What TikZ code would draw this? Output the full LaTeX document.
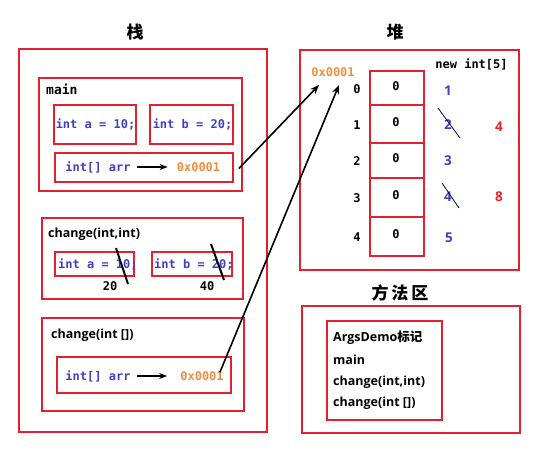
\documentclass[tikz,border=0pt]{standalone}
\usepackage{fontspec}
\setmainfont{Open Sans}
\setmonofont{DejaVu Sans Mono}
\newfontfamily\cjk{Noto Sans CJK SC}
\usetikzlibrary{arrows.meta}
\definecolor{boxred}{RGB}{226,32,48}
\definecolor{codeblue}{RGB}{64,64,196}
\definecolor{addrorange}{RGB}{242,142,62}
\definecolor{numred}{RGB}{228,36,44}
\tikzset{
  box/.style={draw=boxred,line width=1.8pt,inner sep=0pt},
  code/.style={font=\ttfamily\bfseries\fontsize{12}{12}\selectfont,text=codeblue,inner sep=0pt},
  addr/.style={font=\ttfamily\bfseries\fontsize{12}{12}\selectfont,text=addrorange,inner sep=0pt},
  mono/.style={font=\ttfamily\bfseries\fontsize{12}{12}\selectfont,text=black,inner sep=0pt},
  lbl/.style={font=\bfseries\fontsize{12.5}{12.5}\selectfont,text=black,inner sep=0pt,anchor=west},
  title/.style={font=\cjk\bfseries\fontsize{17}{17}\selectfont,inner sep=0pt},
  bnum/.style={font=\bfseries\fontsize{13.5}{13.5}\selectfont,text=codeblue,inner sep=0pt},
  rnum/.style={font=\bfseries\fontsize{13.5}{13.5}\selectfont,text=numred,inner sep=0pt},
  ptr/.style={-{Stealth[length=9pt,width=7pt]},line width=1.6pt,black},
  small ptr/.style={-{Stealth[length=8pt,width=6pt]},line width=1.5pt,black},
  strike/.style={line width=2pt,black},
  thin strike/.style={line width=0.8pt,black!70!blue},
}
\begin{document}
\begin{tikzpicture}[x=1pt,y=-1pt]
\useasboundingbox (0,0) rectangle (554,472);
% titles
\node[title] (tstack) at (135,32) {栈};
\node[title] (theap) at (395,32) {堆};
\node[title] (tmeth) at (400,293) {方\,法\,区};
% stack
\node[box,minimum width=248pt,minimum height=383pt] (stack) at (143,240.5) {};
\node[box,minimum width=203pt,minimum height=113pt] (main) at (140.5,134.5) {};
\node[mono,anchor=west,font=\ttfamily\bfseries\fontsize{13}{13}\selectfont] (mainlbl) at (46,89) {main};
\node[box,minimum width=82pt,minimum height=39pt] (a1) at (95,124.5) {};
\node[code] (a1t) at (95.5,124.5) {int a = 10;};
\node[box,minimum width=83pt,minimum height=39pt] (b1) at (191.5,124.5) {};
\node[code] (b1t) at (192.5,124.5) {int b = 20;};
\node[box,minimum width=178pt,minimum height=29pt] (arr1) at (144,167.5) {};
\node[code] (arr1t) at (98,167) {int[] arr};
\node[addr] (addr1) at (198.5,167) {0x0001};
\draw[small ptr] ([xshift=6pt]arr1t.east) -- ([xshift=-9pt]addr1.west);
% change(int,int)
\node[box,minimum width=201pt,minimum height=81pt] (ch1) at (142.5,258.5) {};
\node[lbl] (ch1lbl) at (48,234) {change(int,int)};
\node[box,minimum width=79pt,minimum height=24pt] (a2) at (94.5,264) {};
\node[code,anchor=west] (a2t) at (58,264) {int a = 10;};
\node[box,minimum width=80pt,minimum height=24pt] (b2) at (192,264) {};
\node[code,anchor=west] (b2t) at (154,264) {int b = 20;};
\node[mono] (v20) at (110,286) {20};
\node[mono] (v40) at (207,286) {40};
\coordinate (sa1) at (116,248); \coordinate (sa2) at (128,284);
\coordinate (sb1) at (211,244); \coordinate (sb2) at (224,280);
\draw[strike] (sa1) -- (sa2);
\draw[strike] (sb1) -- (sb2);
% change(int [])
\node[box,minimum width=202pt,minimum height=93pt] (ch2) at (143,364.5) {};
\node[lbl] (ch2lbl) at (51,335) {change(int [])};
\node[box,minimum width=174pt,minimum height=36pt] (arr2) at (144,375) {};
\node[code] (arr2t) at (98,376) {int[] arr};
\node[addr] (addr2) at (202,376) {0x0001};
\draw[small ptr] ([xshift=6pt]arr2t.east) -- ([xshift=-13pt]addr2.west);
% heap
\node[box,minimum width=219pt,minimum height=220pt] (heap) at (409.5,160) {};
\node[addr] (haddr) at (333,72) {0x0001};
\node[mono] (newint) at (471.5,64) {new int[5]};
\foreach \i/\yt/\yb in {0/71/105,1/105/143,2/143/178,3/178/217,4/217/256}{
  \node[box,minimum width=54pt,minimum height={(\yb-\yt)*1pt}] (c\i) at (397,{(\yt+\yb)/2}) {};
  \node[mono] (cv\i) at (396,{(\yt+\yb)/2-2}) {0};
  \node[mono] (ix\i) at (357,{(\yt+\yb)/2+1}) {\i};
}
\node[bnum] (n1) at (448,91) {1};
\node[bnum] (n2) at (448,125) {2};
\node[bnum] (n3) at (448,161) {3};
\node[bnum] (n4) at (448,197) {4};
\node[bnum] (n5) at (449,238) {5};
\node[rnum] (r4) at (499,127) {4};
\node[rnum] (r8) at (499,197) {8};
\coordinate (s21) at (438,108); \coordinate (s22) at (460,138);
\coordinate (s41) at (442,183); \coordinate (s42) at (459,208);
\draw[thin strike] (s21) -- (s22);
\draw[thin strike] (s41) -- (s42);
% pointers
\coordinate (tgt1) at (319,85);
\coordinate (tgt2) at (339,85);
\draw[ptr] ([xshift=5pt,yshift=-1pt]arr1.east) -- (tgt1);
\draw[ptr] ([xshift=-4pt,yshift=-1pt]addr2.north east) -- (tgt2);
% method area
\node[box,minimum width=218pt,minimum height=127pt] (meth) at (411,369.5) {};
\node[box,minimum width=115pt,minimum height=99pt] (methin) at (384.5,370.5) {};
\node[lbl] (m1) at (333,338) {ArgsDemo{\cjk\bfseries 标记}};
\node[lbl] (m2) at (333,360) {main};
\node[lbl] (m3) at (333,382) {change(int,int)};
\node[lbl] (m4) at (333,403) {change(int [])};
\end{tikzpicture}
\end{document}
